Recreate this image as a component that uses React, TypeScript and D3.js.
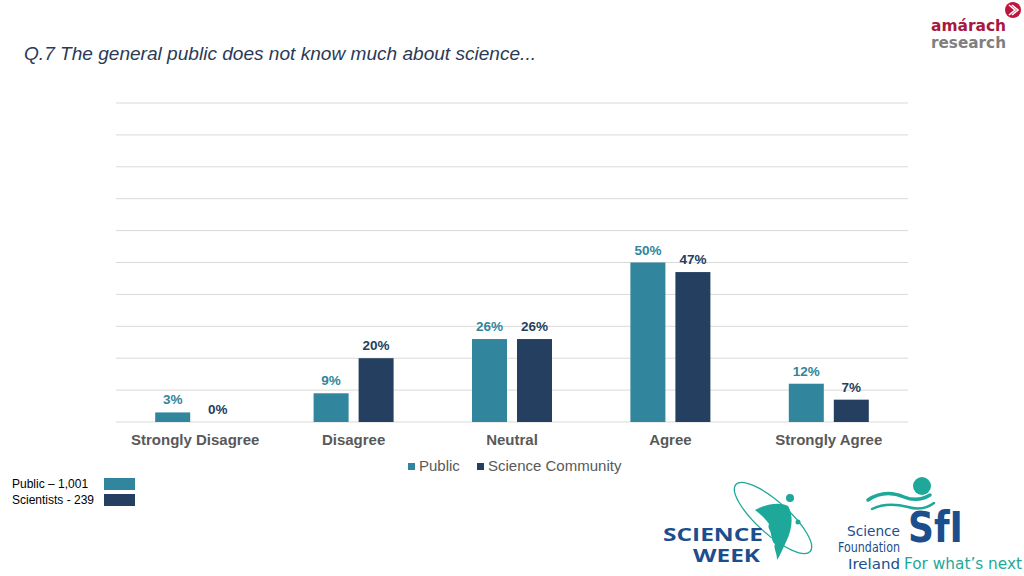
import React from "react";
import * as d3 from "d3";

const categories = ["Strongly Disagree", "Disagree", "Neutral", "Agree", "Strongly Agree"];
const publicValues = [3, 9, 26, 50, 12];
const scienceValues = [0, 20, 26, 47, 7];
const seriesNames = ["Public", "Science Community"];
const gridTicks = [0, 10, 20, 30, 40, 50, 60, 70, 80, 90, 100];
const sampleLabels = ["Public \u2013 1,001", "Scientists - 239"];

const W = 1024, H = 576;
const PUB = "#31859C";
const SCI = "#243F60";
const FONT = "Arial, 'Liberation Sans', Helvetica, sans-serif";

export default function App() {
  const x = d3.scaleBand<string>().domain(categories).range([116, 908]).padding(0);
  const y = d3.scaleLinear().domain([0, 100]).range([422, 103]);
  const inner = d3.scaleBand<string>().domain(seriesNames).range([-40, 40]).paddingInner(10 / 45);
  const series = [
    { name: seriesNames[0], values: publicValues, color: PUB },
    { name: seriesNames[1], values: scienceValues, color: SCI },
  ];

  return (
    <svg width={W} height={H} style={{ position: "absolute", left: 0, top: 0, background: "#fff" }} fontFamily={FONT}>
      <rect width={W} height={H} fill="#fff" />
      <text x={24} y={60} fontSize={19} fontStyle="italic" fill="#2B3A55" textLength={512} lengthAdjust="spacingAndGlyphs">
        Q.7 The general public does not know much about science...
      </text>

      {gridTicks.map((t) => (
        <line key={t} x1={116} x2={908} y1={y(t)} y2={y(t)} stroke="#D9D9D9" strokeWidth={1} />
      ))}

      {series.map((s) =>
        s.values.map((v, i) => {
          const cx = (x(categories[i]) as number) + x.bandwidth() / 2;
          const bx = cx + (inner(s.name) as number);
          return (
            <g key={s.name + i}>
              <rect x={bx} y={y(v)} width={inner.bandwidth()} height={y(0) - y(v)} fill={s.color} />
              <text x={bx + inner.bandwidth() / 2} y={y(v) - 8} textAnchor="middle" fontSize={13.5} fontWeight="bold" fill={s.color}>
                {v}%
              </text>
            </g>
          );
        })
      )}

      {categories.map((c) => (
        <text key={c} x={(x(c) as number) + x.bandwidth() / 2} y={445} textAnchor="middle" fontSize={15} fontWeight="bold" fill="#595959">
          {c}
        </text>
      ))}

      {/* legend */}
      <rect x={408} y={463} width={7} height={7} fill={PUB} />
      <text x={419} y={471} fontSize={15} fill="#595959">Public</text>
      <rect x={477} y={463} width={7} height={7} fill={SCI} />
      <text x={488} y={471} fontSize={15} fill="#595959">Science Community</text>

      {/* sample sizes */}
      <text x={12} y={488} fontSize={12} fill="#000">{sampleLabels[0]}</text>
      <rect x={104} y={478} width={31} height={12} fill={PUB} />
      <text x={12} y={504} fontSize={12} fill="#000">{sampleLabels[1]}</text>
      <rect x={104} y={494} width={31} height={12} fill={SCI} />

      {/* amarach logo */}
      <text x={931} y={31} fontSize={16} fontWeight="bold" fill="#A8183F" fontFamily="'DejaVu Sans', sans-serif" textLength={75} lengthAdjust="spacingAndGlyphs">amárach</text>
      <text x={931} y={48} fontSize={15} fontWeight="bold" fill="#7F7F7F" fontFamily="'DejaVu Sans', sans-serif" textLength={75} lengthAdjust="spacingAndGlyphs">research</text>
      <circle cx={1013} cy={10} r={8} fill="#C0143C" />
      <path d="M1009,5 L1015,10 L1009,15 M1012,5 L1018,10 L1012,15" stroke="#fff" strokeWidth={1.6} fill="none" />

      {/* science week logo */}
      <ellipse cx={773} cy={518} rx={50} ry={16} transform="rotate(42 773 518)" fill="none" stroke="#1EA89A" strokeWidth={1.3} />
      <path d="M755,510 C768,503 780,502 788,506 C794,516 792,530 786,542 C782,550 780,556 777,560 C777,552 773,548 775,544 C771,541 773,538 771,535 C771,530 767,528 769,524 C765,518 760,514 755,510 Z" fill="#1EA89A" />
      <circle cx={790} cy={498} r={4} fill="#1EA89A" />
      <circle cx={798} cy={522} r={2.5} fill="#1EA89A" />
      <text x={663} y={541} fontSize={17} fontWeight="bold" fill="#1A4E8C" fontFamily="'Open Sans', sans-serif" textLength={100} lengthAdjust="spacingAndGlyphs">SCIENCE</text>
      <text x={693} y={562} fontSize={17} fontWeight="bold" fill="#1A4E8C" fontFamily="'Open Sans', sans-serif" textLength={67} lengthAdjust="spacingAndGlyphs">WEEK</text>

      {/* sfi logo */}
      <path d="M868,500 C880,492 892,492 904,497 C914,501 922,500 930,495" fill="none" stroke="#1EA89A" strokeWidth={3.5} strokeLinecap="round" />
      <path d="M872,509 C884,503 896,504 908,507 C918,510 926,509 934,503" fill="none" stroke="#1EA89A" strokeWidth={2.5} strokeLinecap="round" />
      <circle cx={922} cy={486} r={9} fill="#1EA89A" />
      <text x={908} y={542} fontSize={42} fontWeight="bold" fill="#1A4E8C" fontFamily="'DejaVu Sans', sans-serif" textLength={55} lengthAdjust="spacingAndGlyphs">SfI</text>
      <text x={900} y={536} textAnchor="end" fontSize={14} fill="#1A4E8C" fontFamily="'DejaVu Sans', sans-serif" textLength={53} lengthAdjust="spacingAndGlyphs">Science</text>
      <text x={900} y={552} textAnchor="end" fontSize={14} fill="#1A4E8C" fontFamily="'DejaVu Sans', sans-serif" textLength={62} lengthAdjust="spacingAndGlyphs">Foundation</text>
      <text x={900} y={569} textAnchor="end" fontSize={14} fill="#1A4E8C" fontFamily="'DejaVu Sans', sans-serif" textLength={52} lengthAdjust="spacingAndGlyphs">Ireland</text>
      <text x={904} y={569} fontSize={15} fill="#1EA89A" fontFamily="'DejaVu Sans', sans-serif" textLength={118} lengthAdjust="spacingAndGlyphs">For what’s next</text>
    </svg>
  );
}
